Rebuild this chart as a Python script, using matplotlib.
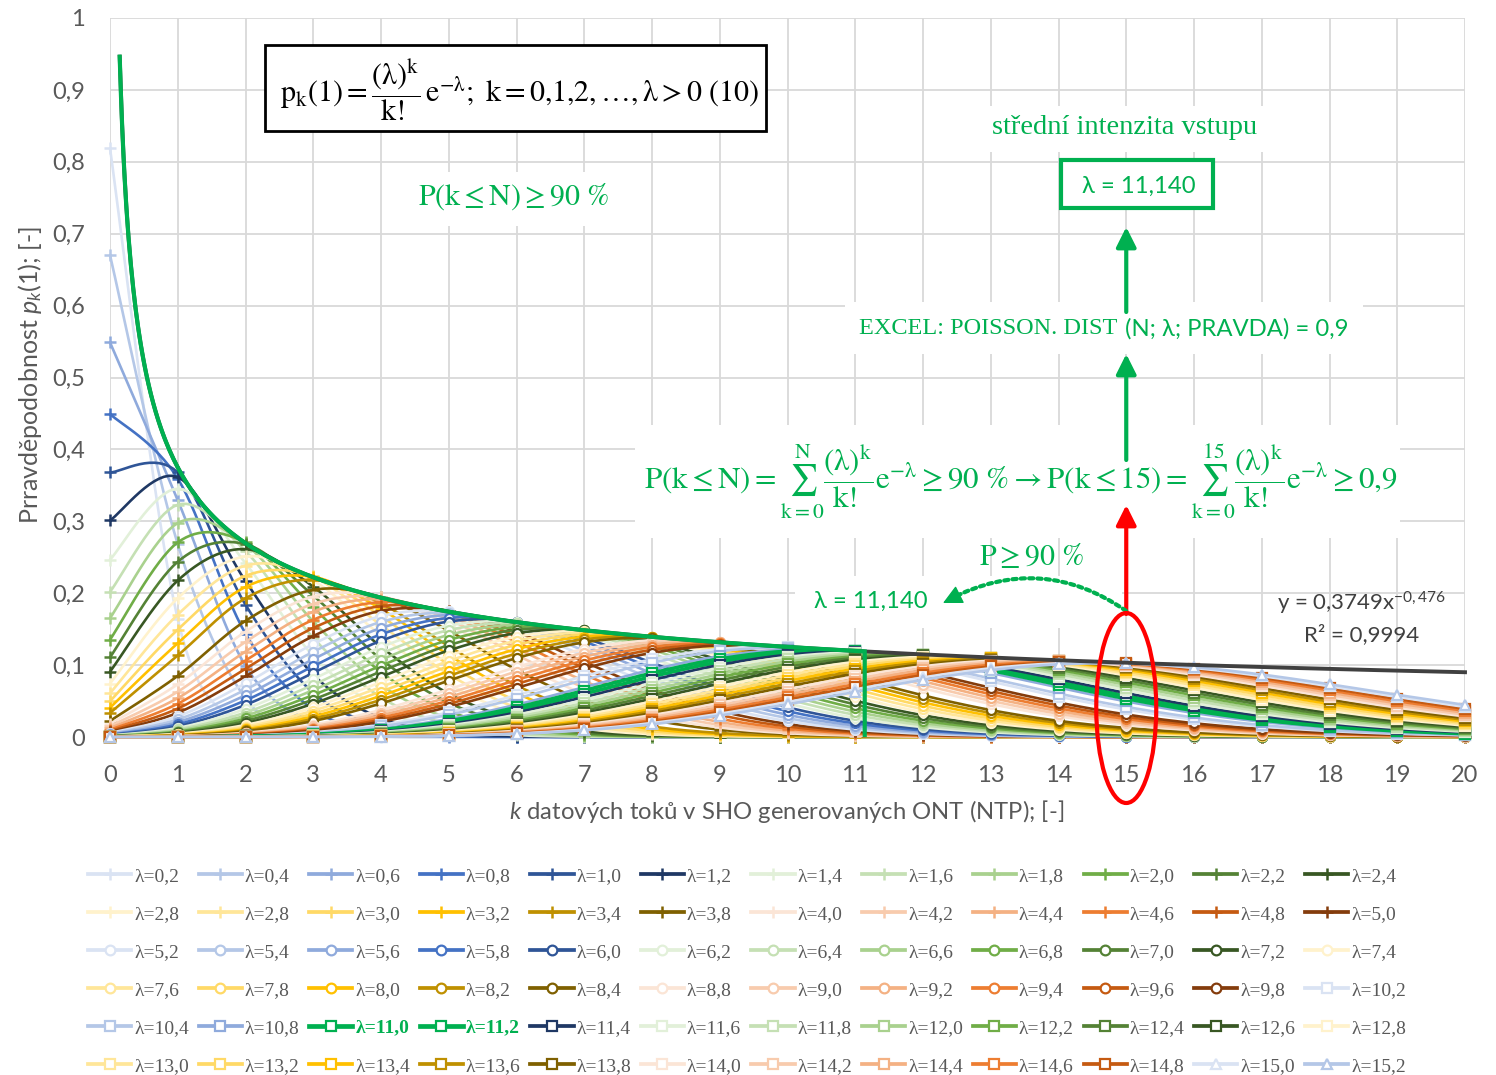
import math
import numpy as np
import matplotlib
matplotlib.use("Agg")
import matplotlib.pyplot as plt
from matplotlib.patches import Ellipse, Rectangle, FancyArrowPatch
from matplotlib.lines import Line2D

# ---------------- data ----------------
k_values = list(range(0, 21))
lambda_values = [0.2, 0.4, 0.6, 0.8, 1.0, 1.2, 1.4, 1.6, 1.8, 2.0, 2.2, 2.4,
                 2.6, 2.8, 3.0, 3.2, 3.4, 3.8, 4.0, 4.2, 4.4, 4.6, 4.8, 5.0,
                 5.2, 5.4, 5.6, 5.8, 6.0, 6.2, 6.4, 6.6, 6.8, 7.0, 7.2, 7.4,
                 7.6, 7.8, 8.0, 8.2, 8.4, 8.8, 9.0, 9.2, 9.4, 9.6, 9.8, 10.2,
                 10.4, 10.8, 11.0, 11.2, 11.4, 11.6, 11.8, 12.0, 12.2, 12.4, 12.6, 12.8,
                 13.0, 13.2, 13.4, 13.6, 13.8, 14.0, 14.2, 14.4, 14.6, 14.8, 15.0, 15.2]
legend_labels = ["λ=0,2", "λ=0,4", "λ=0,6", "λ=0,8", "λ=1,0", "λ=1,2", "λ=1,4", "λ=1,6", "λ=1,8", "λ=2,0", "λ=2,2", "λ=2,4",
                 "λ=2,8", "λ=2,8", "λ=3,0", "λ=3,2", "λ=3,4", "λ=3,8", "λ=4,0", "λ=4,2", "λ=4,4", "λ=4,6", "λ=4,8", "λ=5,0",
                 "λ=5,2", "λ=5,4", "λ=5,6", "λ=5,8", "λ=6,0", "λ=6,2", "λ=6,4", "λ=6,6", "λ=6,8", "λ=7,0", "λ=7,2", "λ=7,4",
                 "λ=7,6", "λ=7,8", "λ=8,0", "λ=8,2", "λ=8,4", "λ=8,8", "λ=9,0", "λ=9,2", "λ=9,4", "λ=9,6", "λ=9,8", "λ=10,2",
                 "λ=10,4", "λ=10,8", "λ=11,0", "λ=11,2", "λ=11,4", "λ=11,6", "λ=11,8", "λ=12,0", "λ=12,2", "λ=12,4", "λ=12,6", "λ=12,8",
                 "λ=13,0", "λ=13,2", "λ=13,4", "λ=13,6", "λ=13,8", "λ=14,0", "λ=14,2", "λ=14,4", "λ=14,6", "λ=14,8", "λ=15,0", "λ=15,2"]
highlight_labels = ["λ=11,0", "λ=11,2"]
trend_a = 0.3749
trend_b = -0.476
trend_start = 0.143
lambda_result = 11.14
n_quantile = 15
y_ticks = [0, 0.1, 0.2, 0.3, 0.4, 0.5, 0.6, 0.7, 0.8, 0.9, 1.0]
y_tick_labels = ["0", "0,1", "0,2", "0,3", "0,4", "0,5", "0,6", "0,7", "0,8", "0,9", "1"]
x_ticks = list(range(0, 21))

# ---------------- style ----------------
palette = ["#DAE3F3", "#B4C7E7", "#8FAADC", "#4472C4", "#2F5597", "#1F3864",
           "#E2F0D9", "#C5E0B4", "#A9D18E", "#70AD47", "#548235", "#385723",
           "#FFF2CC", "#FFE699", "#FFD966", "#FFC000", "#BF9000", "#7F6000",
           "#FBE5D6", "#F8CBAD", "#F4B183", "#ED7D31", "#C55A11", "#843C0C"]
# palette slot used by each series (in legend order)
color_slot = (list(range(24))
              + [0, 1, 2, 3, 4]
              + list(range(6, 12)) + list(range(12, 18)) + list(range(18, 24))
              + list(range(0, 6)) + list(range(6, 12)) + list(range(12, 18))
              + [18, 19, 20, 21, 22]
              + [0, 1])
GREEN = "#00B050"
TXT = "#595959"
SERIF = ["Liberation Serif", "DejaVu Serif"]

plt.rcParams["font.family"] = ["Lato", "DejaVu Sans"]
plt.rcParams["mathtext.fontset"] = "custom"
plt.rcParams["mathtext.rm"] = "Lato"
plt.rcParams["mathtext.it"] = "Lato:italic"
plt.rcParams["mathtext.bf"] = "Lato:bold"


def marker_for(i):
    if i < 24:
        return "+"
    if i < 47:
        return "o"
    if i < 70:
        return "s"
    return "^"


def smooth(xs, ys, n=16):
    x = np.asarray(xs, float)
    y = np.asarray(ys, float)
    px = np.concatenate([[x[0]], x, [x[-1]]])
    py = np.concatenate([[y[0]], y, [y[-1]]])
    t = np.linspace(0, 1, n, endpoint=False)
    ox, oy = [], []
    for i in range(len(x) - 1):
        p0 = np.array([px[i], py[i]])
        p1 = np.array([px[i + 1], py[i + 1]])
        p2 = np.array([px[i + 2], py[i + 2]])
        p3 = np.array([px[i + 3], py[i + 3]])
        c1 = p1 + (p2 - p0) / 6.0
        c2 = p2 - (p3 - p1) / 6.0
        b = ((1 - t) ** 3)[:, None] * p1 + (3 * (1 - t) ** 2 * t)[:, None] * c1 \
            + (3 * (1 - t) * t ** 2)[:, None] * c2 + (t ** 3)[:, None] * p2
        ox.extend(b[:, 0])
        oy.extend(b[:, 1])
    ox.append(x[-1])
    oy.append(y[-1])
    return np.array(ox), np.array(oy)


fig = plt.figure(figsize=(14.96, 10.75), dpi=100)
ax = fig.add_axes([110 / 1496, 1 - 737 / 1075, 1355 / 1496, 719 / 1075])

ks = np.array(k_values)
handles = []
for i, (lam, lab) in enumerate(zip(lambda_values, legend_labels)):
    hl = lab in highlight_labels
    col = GREEN if hl else palette[color_slot[i]]
    lw = 2.6 if hl else 1.9
    pmf = np.array([lam ** k / math.factorial(k) * math.exp(-lam) for k in k_values])
    sx, sy = smooth(ks, pmf)
    z = 2 + i * 0.01
    ax.plot(sx, sy, color=col, lw=lw, zorder=z, clip_on=False, solid_capstyle="round")
    m = marker_for(i)
    if m == "+":
        ax.plot(ks, pmf, ls="none", marker="+", ms=8, mew=1.8, color=col, zorder=z, clip_on=False)
        h = Line2D([], [], color=col, lw=lw + 0.8, marker="+", ms=9, mew=1.8)
    else:
        ax.plot(ks, pmf, ls="none", marker=m, ms=6.5, mew=1.6, mfc="white", mec=col, zorder=z, clip_on=False)
        h = Line2D([], [], color=col, lw=lw + 0.8, marker=m, ms=7, mew=1.6, mfc="white", mec=col)
    handles.append(h)

# trendline (power) and green envelope up to lambda_result
tx = np.linspace(trend_start, 20, 600)
ax.plot(tx, trend_a * tx ** trend_b, color="#404040", lw=2.8, zorder=3, clip_on=False)
gx = np.linspace(trend_start, lambda_result, 600)
gy = trend_a * gx ** trend_b
ax.plot(np.append(gx, lambda_result), np.append(gy, 0), color=GREEN, lw=3.0, zorder=3.1,
        solid_joinstyle="miter")

# axes formatting
ax.set_xlim(0, 20)
ax.set_ylim(0, 1)
ax.set_xticks(x_ticks)
ax.set_yticks(y_ticks)
ax.set_yticklabels(y_tick_labels)
ax.tick_params(length=0, labelsize=17, labelcolor=TXT)
ax.tick_params(axis="x", pad=20)
ax.tick_params(axis="y", pad=18)
ax.grid(True, color="#D9D9D9", lw=1.3)
ax.set_axisbelow(True)
for s in ax.spines.values():
    s.set_visible(False)

ax.set_xlabel(r"$k$ datových toků v SHO generovaných ONT (NTP); [-]", fontsize=17.2, color=TXT)
ax.xaxis.set_label_coords(0.499, -0.104)
ax.xaxis.label.set_va("center")
ax.set_ylabel("Prr" + r"avděpodobnost $p_k$(1); [-]", fontsize=18, color=TXT)
ax.yaxis.set_label_coords(-0.059, 0.503)
ax.yaxis.label.set_va("center")


def fx(px):
    return (px - 110) / 67.75


def fy(py):
    return (737 - py) / 719


def white_box(x0, y0, x1, y1):
    ax.add_patch(Rectangle((fx(x0), fy(y1)), fx(x1) - fx(x0), fy(y0) - fy(y1),
                           facecolor="white", edgecolor="none", zorder=1.8, clip_on=False))


# formula box
ax.add_patch(Rectangle((fx(265), fy(131)), fx(766) - fx(265), fy(45) - fy(131),
                       facecolor="white", edgecolor="black", lw=2.0, zorder=5))
ax.text(fx(519), fy(90),
        r"$\mathrm{p_k(1)} = \dfrac{(\mathrm{\lambda})^{\mathrm{k}}}{\mathrm{k!}}\,\mathrm{e}^{-\mathrm{\lambda}};\ \mathrm{k} = 0{,}1{,}2, \ldots, \mathrm{\lambda} > 0\ (10)$",
        math_fontfamily="stix", fontsize=21.5, ha="center", va="center", zorder=6)

# P(k<=N) >= 90 %
white_box(400, 172, 625, 226)
ax.text(fx(513), fy(197), r"$\mathrm{P(k \leq N) \geq 90\ \%}$", math_fontfamily="stix",
        fontsize=21.5, color=GREEN, ha="center", va="center", zorder=6)

# střední intenzita vstupu
white_box(975, 106, 1275, 152)
ax.text(fx(1125), fy(127), "střední intenzita vstupu", family=SERIF,
        fontsize=20.5, color=GREEN, ha="center", va="center", zorder=6)

# lambda result box
ax.add_patch(Rectangle((fx(1061), fy(208)), fx(1213) - fx(1061), fy(160) - fy(208),
                       facecolor="white", edgecolor=GREEN, lw=3.0, zorder=5, clip_on=False))
ax.text(fx(1139), fy(186), "λ = 11,140", fontsize=17.2, color=GREEN, ha="center", va="center", zorder=6)

# EXCEL text
white_box(845, 302, 1363, 354)
ax.text(fx(1117), fy(329), "EXCEL: POISSON. DIST", family=SERIF,
        fontsize=17.5, color=GREEN, ha="right", va="center", zorder=6)
ax.text(fx(1125), fy(329), "(N; λ; PRAVDA) = 0,9", fontsize=17.2, color=GREEN, ha="left", va="center", zorder=6)

# big formula
white_box(635, 425, 1400, 538)
ax.text(fx(1021), fy(482),
        r"$\mathrm{P(k \leq N)} = \sum_{\mathrm{k=0}}^{\mathrm{N}} \dfrac{(\mathrm{\lambda})^{\mathrm{k}}}{\mathrm{k!}}\mathrm{e}^{-\mathrm{\lambda}} \geq 90\ \% \rightarrow \mathrm{P(k \leq 15)} = \sum_{\mathrm{k=0}}^{15} \dfrac{(\mathrm{\lambda})^{\mathrm{k}}}{\mathrm{k!}}\mathrm{e}^{-\mathrm{\lambda}} \geq 0{,}9$",
        math_fontfamily="stix", fontsize=22.3, color=GREEN, ha="center", va="center", zorder=6)

# arrows
arr = "-|>,head_length=0.6,head_width=0.3"
ax.add_patch(FancyArrowPatch((n_quantile, fy(312)), (n_quantile, fy(227)), arrowstyle=arr, mutation_scale=20,
                             lw=3, color=GREEN, shrinkA=0, shrinkB=0, zorder=6))
ax.add_patch(FancyArrowPatch((n_quantile, fy(460)), (n_quantile, fy(354)), arrowstyle=arr, mutation_scale=20,
                             lw=3, color=GREEN, shrinkA=0, shrinkB=0, zorder=6))
ax.add_patch(FancyArrowPatch((n_quantile, fy(614)), (n_quantile, fy(505)), arrowstyle=arr, mutation_scale=20,
                             lw=3, color="#FF0000", shrinkA=0, shrinkB=0, zorder=6))

# lower labels
white_box(795, 576, 1122, 628)
ax.text(fx(1032), fy(555), r"$\mathrm{P \geq 90\ \%}$", math_fontfamily="stix", fontsize=21.5,
        color=GREEN, ha="center", va="center", zorder=6)
ax.text(fx(871), fy(601), "λ = 11,140", fontsize=17.2, color=GREEN, ha="center", va="center", zorder=6)
ax.add_patch(FancyArrowPatch((n_quantile, fy(611)), (fx(950), fy(599)), arrowstyle="-",
                             connectionstyle="arc3,rad=0.3", lw=3, color=GREEN,
                             linestyle=(0, (1, 1)), shrinkA=0, shrinkB=0, zorder=6))
ax.add_patch(FancyArrowPatch((fx(959), fy(595)), (fx(943), fy(603)), arrowstyle=arr, mutation_scale=20,
                             lw=1, color=GREEN, shrinkA=0, shrinkB=0, zorder=6))

# red ellipse
ax.add_patch(Ellipse((n_quantile, fy(708)), 60 / 67.75, 190 / 719, facecolor="none",
                     edgecolor="#FF0000", lw=3, zorder=7, clip_on=False))

# trendline label
ax.text(fx(1362), fy(603), r"y = 0,3749x$^{\mathrm{-0,476}}$", fontsize=16, color="#404040",
        ha="center", va="center", zorder=6)
ax.text(fx(1362), fy(635), "R² = 0,9994", fontsize=16, color="#404040", ha="center", va="center", zorder=6)

# legend (row-major order like the original)
ncol = 12
nrow = 6
order = [r * ncol + c for c in range(ncol) for r in range(nrow)]
leg = fig.legend([handles[j] for j in order], [legend_labels[j] for j in order],
                 ncol=ncol, loc="upper left", bbox_to_anchor=(88 / 1496, 1 - 867 / 1075),
                 frameon=False, prop={"family": SERIF, "size": 14},
                 handlelength=2.22, handletextpad=0.15, columnspacing=0.5, labelspacing=1.05,
                 borderpad=0, borderaxespad=0)
for t in leg.get_texts():
    if t.get_text() in highlight_labels:
        t.set_color(GREEN)
        t.set_fontweight("bold")
    else:
        t.set_color(TXT)

fig.savefig("out.png", dpi=100, facecolor="white")
